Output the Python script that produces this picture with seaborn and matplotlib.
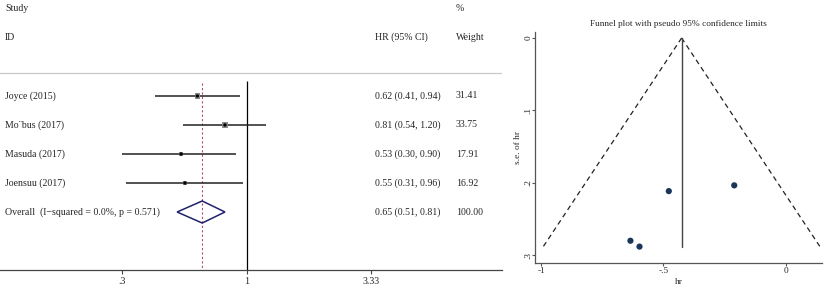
import matplotlib
matplotlib.use("Agg")
import matplotlib.pyplot as plt
import numpy as np
import pandas as pd
import seaborn as sns

# Study level data
studies = ["Joyce (2015)", "Mo¨bus (2017)", "Masuda (2017)", "Joensuu (2017)"]
hr = [0.62, 0.81, 0.53, 0.55]
hr_low = [0.41, 0.54, 0.30, 0.31]
hr_high = [0.94, 1.20, 0.90, 0.96]
weights = [31.41, 33.75, 17.91, 16.92]

# Pooled estimate
overall_label = "Overall  (I\u2212squared = 0.0%, p = 0.571)"
overall_hr = 0.65
overall_low = 0.51
overall_high = 0.81
overall_weight = 100.00

xticks_forest = [0.3, 1, 3.33]
xticklabels_forest = [".3", "1", "3.33"]
xticks_funnel = [-1, -0.5, 0]
xticklabels_funnel = ["-1", "-.5", "0"]
yticks_funnel = [0, 0.1, 0.2, 0.3]
yticklabels_funnel = ["0", ".1", ".2", ".3"]

sns.set_style("white")
plt.rcParams["font.family"] = ["Liberation Serif", "DejaVu Serif"]
FS = 7.1      # forest plot text
FS2 = 6.7     # funnel plot text
NAVY = "#20206e"

df = pd.DataFrame({"study": studies, "hr": hr, "low": hr_low, "high": hr_high,
                   "weight": weights})
df["row"] = np.arange(len(df))
overall_row = len(df)

fig = plt.figure(figsize=(8.27, 2.94), dpi=100)

#################
# Forest plot
#################
ax = fig.add_axes([0.0, 0.0816, 0.607, 0.9184])
ax.set_xscale("log")
ax.set_xlim(0.092, 11.8)
ax.set_ylim(6.0, -3.31)

ax.axhline(-0.79, color="#c8c8c8", lw=0.9)
ax.vlines(1, -0.5, 6.0, color="black", lw=0.9)
ax.vlines(overall_hr, -0.45, 6.0, color="#b05060", lw=0.8, linestyles=(0, (2, 2)))

ax.hlines(df["row"], df["low"], df["high"], color="#222222", lw=1.1)
sns.scatterplot(data=df, x="hr", y="row", marker="s", s=df["weight"] * 0.45,
                color="#8a8a8a", edgecolor="none", ax=ax, legend=False, zorder=3)
sns.scatterplot(data=df, x="hr", y="row", marker="o", s=6, color="black",
                edgecolor="none", ax=ax, legend=False, zorder=4)

# Pooled diamond
half_h = 0.38
ax.fill([overall_low, overall_hr, overall_high, overall_hr, overall_low],
        [overall_row, overall_row - half_h, overall_row, overall_row + half_h, overall_row],
        facecolor="none", edgecolor=NAVY, lw=1.1, zorder=3)

# Text columns
tr = ax.get_yaxis_transform()
ax.text(0.01, -3.03, "Study", transform=tr, fontsize=FS, va="center")
ax.text(0.01, -2.03, "ID", transform=tr, fontsize=FS, va="center")
ax.text(0.748, -2.03, "HR (95% CI)", transform=tr, fontsize=FS, va="center")
ax.text(0.908, -3.03, "%", transform=tr, fontsize=FS, va="center")
ax.text(0.908, -2.03, "Weight", transform=tr, fontsize=FS, va="center")
for i, r in df.iterrows():
    ax.text(0.01, r["row"], r["study"], transform=tr, fontsize=FS, va="center")
    ax.text(0.748, r["row"], f"{r['hr']:.2f} ({r['low']:.2f}, {r['high']:.2f})",
            transform=tr, fontsize=FS, va="center")
    ax.text(0.908, r["row"], f"{r['weight']:.2f}", transform=tr, fontsize=FS, va="center")
ax.text(0.01, overall_row, overall_label, transform=tr, fontsize=FS, va="center")
ax.text(0.748, overall_row, f"{overall_hr:.2f} ({overall_low:.2f}, {overall_high:.2f})",
        transform=tr, fontsize=FS, va="center")
ax.text(0.908, overall_row, f"{overall_weight:.2f}", transform=tr, fontsize=FS, va="center")

ax.set_xticks(xticks_forest)
ax.set_xticklabels(xticklabels_forest, fontsize=FS)
ax.xaxis.set_minor_locator(matplotlib.ticker.NullLocator())
ax.set_yticks([])
ax.set_xlabel("")
ax.set_ylabel("")
for s in ["top", "left", "right"]:
    ax.spines[s].set_visible(False)
ax.spines["bottom"].set_color("#444444")
ax.spines["bottom"].set_linewidth(0.9)
ax.tick_params(axis="x", direction="out", length=3, width=0.8, color="#444444",
               pad=2, bottom=True)

#################
# Funnel plot
#################
log_hr = np.log(df["hr"])
se = (np.log(df["high"]) - np.log(df["low"])) / (2 * 1.96)
funnel = pd.DataFrame({"loghr": log_hr, "se": se})
pooled = np.log(overall_hr) + 0.005
se_max = se.max()

ax2 = fig.add_axes([0.647, 0.1065, 0.347, 0.7847])
ax2.set_xlim(-1.0245, 0.148)
ax2.set_ylim(0.3106, -0.0083)

se_line = np.array([0, se_max])
ax2.plot(pooled - 1.96 * se_line, se_line, color="#222222", lw=0.9, ls=(0, (4, 3)))
ax2.plot(pooled + 1.96 * se_line, se_line, color="#222222", lw=0.9, ls=(0, (4, 3)))
ax2.plot([pooled, pooled], [0, se_max], color="#444444", lw=1.0)
sns.scatterplot(data=funnel, x="loghr", y="se", s=20, color="#1a3557",
                edgecolor="none", ax=ax2, legend=False, zorder=3)

ax2.set_title("Funnel plot with pseudo 95% confidence limits", fontsize=FS2, pad=4)
ax2.set_xticks(xticks_funnel)
ax2.set_xticklabels(xticklabels_funnel, fontsize=FS2)
ax2.set_yticks(yticks_funnel)
ax2.set_yticklabels(yticklabels_funnel, fontsize=FS2, rotation=90, va="center")
ax2.set_xlabel("hr", fontsize=FS2, labelpad=2)
ax2.set_ylabel("s.e. of hr", fontsize=FS2, labelpad=2)
for s in ["top", "right"]:
    ax2.spines[s].set_visible(False)
for s in ["left", "bottom"]:
    ax2.spines[s].set_color("#555555")
    ax2.spines[s].set_linewidth(0.9)
ax2.tick_params(direction="out", length=2, width=0.8, color="#555555", pad=1,
                left=True, bottom=True)
ax2.tick_params(axis="y", pad=0)

fig.savefig("out.png", dpi=100, facecolor="white")
